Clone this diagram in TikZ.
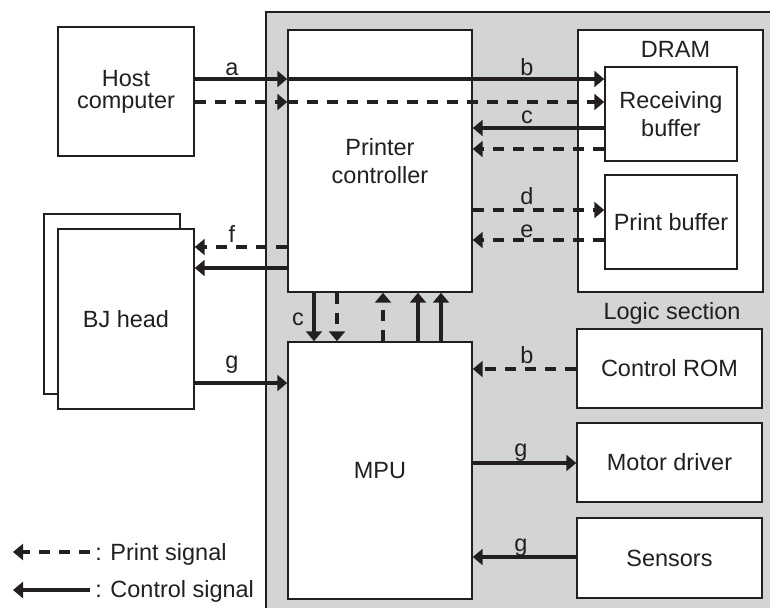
\documentclass[tikz,border=0pt]{standalone}
\usepackage{fontspec}
\setmainfont{Liberation Sans}
\usetikzlibrary{arrows.meta}
\definecolor{ink}{RGB}{35,31,32}
\definecolor{panel}{RGB}{211,212,214}
\begin{document}
\begin{tikzpicture}[x=0.75pt,y=-0.75pt,
  box/.style={draw=ink,fill=white,line width=1.1pt,inner sep=0pt,align=center,text=ink,font=\fontsize{17.6}{21}\selectfont},
  lbl/.style={anchor=base,inner sep=0pt,text=ink,font=\fontsize{17.6}{21}\selectfont},
  sig/.style={draw=ink,line width=3.2pt,-{Triangle[length=7.5pt,width=12pt]}},
  prt/.style={sig,dash pattern=on 8.25pt off 6.75pt},
]
\useasboundingbox (0,0) rectangle (770,607);
\clip (0,0) rectangle (770,607);
% logic section panel
\draw[draw=ink,fill=panel,line width=1.1pt] (266,12) rectangle (790,630);

% nodes
\node[box,minimum width=102pt,minimum height=96.75pt,font=\fontsize{17.6}{16.5}\selectfont] (host) at (126,91.5) {Host\\computer};
\node[box,minimum width=138pt,minimum height=196.5pt] (ctrl) at (380,161) {Printer\\controller};
\node[box,minimum width=138.75pt,minimum height=196.5pt] (dram) at (670.5,161) {};
\node[lbl] (dramlbl) at (675.5,57) {DRAM};
\node[box,minimum width=99pt,minimum height=70.5pt] (rbuf) at (671,114) {Receiving\\buffer};
\node[box,minimum width=99pt,minimum height=70.5pt] (pbuf) at (671,222) {Print buffer};
\node[box,minimum width=102pt,minimum height=135pt] (bjback) at (112,304) {};
\node[box,minimum width=102pt,minimum height=135pt] (bj) at (126,319) {BJ head};
\node[box,minimum width=138pt,minimum height=192.75pt] (mpu) at (380,470.5) {MPU};
\node[lbl] (logiclbl) at (672,319) {Logic section};
\node[box,minimum width=138.75pt,minimum height=59.25pt] (crom) at (669.5,368.5) {Control ROM};
\node[box,minimum width=138.75pt,minimum height=59.25pt] (motor) at (669.5,462.5) {Motor driver};
\node[box,minimum width=138.75pt,minimum height=60pt] (sens) at (669.5,558) {Sensors};

% connectors
\draw[sig] (host.east |- 0,79) -- (ctrl.west |- 0,79);
\draw[sig] (ctrl.west |- 0,79) -- (rbuf.west |- 0,79);
\draw[prt] (host.east |- 0,102) -- (ctrl.west |- 0,102);
\draw[prt] (ctrl.west |- 0,102) -- (rbuf.west |- 0,102);
\draw[sig] (rbuf.west |- 0,128) -- (ctrl.east |- 0,128);
\draw[prt] (rbuf.west |- 0,149) -- (ctrl.east |- 0,149);
\draw[prt] (ctrl.east |- 0,210) -- (pbuf.west |- 0,210);
\draw[prt] (pbuf.west |- 0,240) -- (ctrl.east |- 0,240);
\draw[prt] (ctrl.west |- 0,247) -- (bj.east |- 0,247);
\draw[sig] (ctrl.west |- 0,268) -- (bj.east |- 0,268);
\draw[sig] (bj.east |- 0,383) -- (mpu.west |- 0,383);
\draw[sig] (ctrl.south -| 314,0) -- (mpu.north -| 314,0);
\draw[prt] (ctrl.south -| 337,0) -- (mpu.north -| 337,0);
\draw[prt] (mpu.north -| 383,0) -- (ctrl.south -| 383,0);
\draw[sig] (mpu.north -| 418,0) -- (ctrl.south -| 418,0);
\draw[sig] (mpu.north -| 441,0) -- (ctrl.south -| 441,0);
\draw[prt] (crom.west |- 0,369) -- (mpu.east |- 0,369);
\draw[sig] (mpu.east |- 0,463) -- (motor.west |- 0,463);
\draw[sig] (sens.west |- 0,557) -- (mpu.east |- 0,557);

% labels
\node[lbl] (la) at (232,75) {a};
\node[lbl] (lb) at (527,75) {b};
\node[lbl] (lc) at (527,123) {c};
\node[lbl] (ld) at (527,204) {d};
\node[lbl] (le) at (527,237) {e};
\node[lbl] (lf) at (232,242) {f};
\node[lbl] (lg) at (232,368) {g};
\node[lbl] (lc2) at (298,325) {c};
\node[lbl] (lb2) at (527,363) {b};
\node[lbl] (lg2) at (521,456) {g};
\node[lbl] (lg3) at (521,551) {g};

% legend
\coordinate (lp1) at (90,552);
\coordinate (lp0) at (13,552);
\coordinate (lc1) at (90,590);
\coordinate (lc0) at (13,590);
\draw[prt] (lp1) -- (lp0);
\draw[sig] (lc1) -- (lc0);
\node[lbl,anchor=base west] (lpt) at (95,560) {: Print signal};
\node[lbl,anchor=base west] (lct) at (95,597) {: Control signal};
\end{tikzpicture}
\end{document}
